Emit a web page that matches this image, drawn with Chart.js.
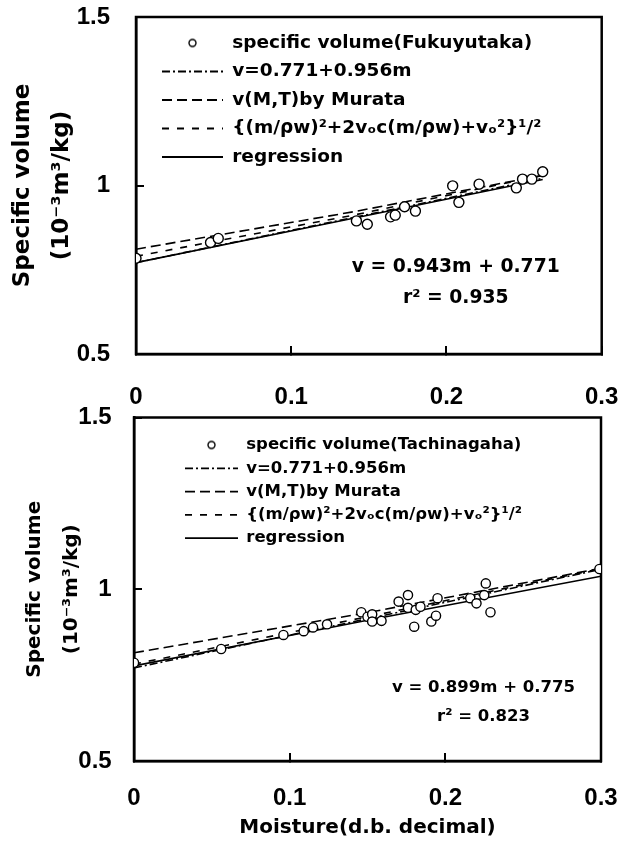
<!DOCTYPE html>
<html>
<head>
<meta charset="utf-8">
<script src="https://cdn.jsdelivr.net/npm/chart.js@4.4.0/dist/chart.umd.min.js"></script>
<style>
  html, body { margin: 0; padding: 0; background: #fff; }
  body { width: 629px; height: 846px; position: relative; overflow: hidden; }
  canvas { position: absolute; left: 0; }
  #topChart { top: 0; }
  #bottomChart { top: 400px; }
</style>
</head>
<body>
<canvas id="topChart" width="629" height="412"></canvas>
<canvas id="bottomChart" width="629" height="446"></canvas>
<script>
// Fukuyutaka: moisture (d.b. decimal) vs specific volume (10^-3 m3/kg)
var fukuMoisture = [0, 0.048, 0.053, 0.142, 0.149, 0.164, 0.167, 0.173, 0.180, 0.204, 0.208, 0.221, 0.245, 0.249, 0.255, 0.262];
var fukuVolume = [0.784, 0.831, 0.843, 0.895, 0.885, 0.907, 0.912, 0.937, 0.924, 0.999, 0.950, 1.004, 0.993, 1.019, 1.019, 1.041];

// Tachinagaha
var tachiMoisture = [0, 0.056, 0.096, 0.109, 0.115, 0.124, 0.146, 0.150, 0.153, 0.153, 0.159, 0.170, 0.176, 0.176, 0.180, 0.181, 0.184, 0.191, 0.194, 0.195, 0.216, 0.220, 0.225, 0.226, 0.229, 0.299];
var tachiVolume = [0.786, 0.826, 0.867, 0.878, 0.889, 0.898, 0.933, 0.920, 0.927, 0.906, 0.908, 0.964, 0.983, 0.946, 0.891, 0.940, 0.949, 0.906, 0.923, 0.974, 0.974, 0.959, 0.983, 1.017, 0.933, 1.059];

// model and fitted lines, read at both ends and in the middle
var fukuLineM = [0, 0.14, 0.262];
var fukuDashDot = [0.771, 0.905, 1.021];
var fukuMurata = [0.811, 0.922, 1.030];
var fukuSqrt = [0.790, 0.912, 1.030];
var fukuRegression = [0.771, 0.903, 1.018];

var tachiLineM = [0, 0.15, 0.3];
var tachiDashDot = [0.771, 0.914, 1.058];
var tachiMurata = [0.815, 0.932, 1.061];
var tachiSqrt = [0.782, 0.920, 1.060];
var tachiRegression = [0.777, 0.910, 1.038];

// axis ticks
var moistureTicks = [0, 0.1, 0.2, 0.3];
var moistureLabels = ['0', '0.1', '0.2', '0.3'];
var volumeTicks = [0.5, 1, 1.5];
var volumeLabels = ['0.5', '1', '1.5'];

var modelLabels = [
    'v=0.771+0.956m',
    'v(M,T)by Murata',
    '{(m/ρw)²+2vₒc(m/ρw)+vₒ²}¹/²',
    'regression'
];

var SANS = "'DejaVu Sans', sans-serif";
var TICKS = "'Liberation Sans', Arial, sans-serif";

Chart.defaults.color = '#000';

function toPoints(xs, ys) {
    return xs.map(function(x, i) { return {x: x, y: ys[i]}; });
}

// small open circle used as the legend marker
function circleMark(r) {
    var c = document.createElement('canvas');
    c.width = c.height = 2 * r + 4;
    var g = c.getContext('2d');
    g.lineWidth = 1.4;
    g.strokeStyle = '#000';
    g.fillStyle = '#fff';
    g.beginPath();
    g.arc(r + 2, r + 2, r, 0, Math.PI * 2);
    g.fill();
    g.stroke();
    return c;
}

// box round the plot area
var framePlugin = {
    id: 'frame',
    beforeDatasetsDraw: function(chart) {
        var a = chart.chartArea, ctx = chart.ctx;
        ctx.save();
        ctx.lineWidth = 2.5;
        ctx.strokeStyle = '#000';
        ctx.strokeRect(a.left, a.top, a.right - a.left, a.bottom - a.top);
        ctx.restore();
    }
};

// regression equation written inside the plot
var notesPlugin = {
    id: 'notes',
    afterDatasetsDraw: function(chart, args, opts) {
        var ctx = chart.ctx, xs = chart.scales.x, ys = chart.scales.y;
        ctx.save();
        ctx.font = 'bold ' + opts.size + 'px ' + SANS;
        ctx.fillStyle = '#000';
        ctx.textAlign = 'center';
        ctx.textBaseline = 'middle';
        opts.lines.forEach(function(t, i) {
            ctx.fillText(t, xs.getPixelForValue(opts.m), ys.getPixelForValue(opts.v[i]));
        });
        ctx.restore();
    }
};

// move the legend to its place inside the plot
var legendPlace = {
    id: 'legendPlace',
    afterLayout: function(chart, args, opts) {
        var lg = chart.legend, a = chart.chartArea;
        lg.left = a.left + opts.dx;
        lg.top = a.top + opts.dy;
        lg.right = a.right;
        lg.bottom = a.bottom;
    }
};

function makeChart(id, s) {
    var lineStyle = {
        showLine: true, pointRadius: 0, pointHoverRadius: 0, borderColor: '#000',
        borderWidth: 1.6, fill: false, tension: 0, pointStyle: 'line'
    };
    var datasets = [
        {label: s.pointsLabel, data: toPoints(s.moisture, s.volume), showLine: false,
         pointRadius: s.radius, pointBorderWidth: 1.4, pointBackgroundColor: '#fff',
         pointBorderColor: '#000', backgroundColor: '#fff', borderColor: '#000'},
        Object.assign({label: modelLabels[0], data: toPoints(s.lineM, s.dashDot), borderDash: [8, 3, 2, 3]}, lineStyle),
        Object.assign({label: modelLabels[1], data: toPoints(s.lineM, s.murata), borderDash: [10, 5]}, lineStyle),
        Object.assign({label: modelLabels[2], data: toPoints(s.lineM, s.sqrt), borderDash: [7, 8]}, lineStyle),
        Object.assign({label: modelLabels[3], data: toPoints(s.lineM, s.regression)}, lineStyle)
    ];
    var mark = circleMark(3.5);

    return new Chart(document.getElementById(id), {
        type: 'scatter',
        data: {datasets: datasets},
        plugins: [framePlugin, notesPlugin, legendPlace],
        options: {
            responsive: false,
            animation: false,
            devicePixelRatio: 1,
            layout: {padding: {top: s.padTop, left: 0, right: s.padRight, bottom: 0}},
            plugins: {
                tooltip: {enabled: false},
                legend: {
                    position: 'chartArea',
                    align: 'start',
                    labels: {
                        usePointStyle: true,
                        pointStyleWidth: s.legendBox,
                        padding: s.legendGap,
                        font: {family: SANS, size: s.legendFont, weight: 'bold'},
                        color: '#000',
                        generateLabels: function(chart) {
                            return chart.data.datasets.map(function(ds, i) {
                                return {
                                    text: ds.label,
                                    fillStyle: '#fff',
                                    strokeStyle: '#000',
                                    lineWidth: 1.8,
                                    lineDash: ds.borderDash || [],
                                    pointStyle: i === 0 ? mark : 'line',
                                    hidden: false,
                                    datasetIndex: i
                                };
                            });
                        }
                    }
                },
                legendPlace: {dx: s.legendDx, dy: s.legendDy},
                notes: {size: s.noteFont, m: s.noteM, v: s.noteV, lines: s.notes}
            },
            scales: {
                x: {
                    type: 'linear',
                    min: 0, max: 0.3,
                    afterBuildTicks: function(scale) {
                        scale.ticks = moistureTicks.map(function(v) { return {value: v}; });
                    },
                    afterFit: function(scale) {
                        scale.height = s.xAxisHeight;
                        scale.paddingLeft = 0;
                        scale.paddingRight = 0;
                    },
                    ticks: {
                        padding: s.xTickPad,
                        maxRotation: 0,
                        font: {family: TICKS, size: s.tickFont, weight: 'bold'},
                        color: '#000',
                        callback: function(v, i) { return moistureLabels[i]; }
                    },
                    grid: {drawOnChartArea: false, tickLength: -8, color: '#000', lineWidth: 2},
                    border: {display: true, color: '#000', width: 2.5},
                    title: s.xTitle ? {
                        display: true,
                        text: s.xTitle,
                        font: {family: SANS, size: 20, weight: 'bold'},
                        padding: {top: 0, bottom: 6},
                        color: '#000'
                    } : {display: false}
                },
                y: {
                    type: 'linear',
                    min: 0.5, max: 1.5,
                    afterBuildTicks: function(scale) {
                        scale.ticks = volumeTicks.map(function(v) { return {value: v}; });
                    },
                    afterFit: function(scale) {
                        scale.width = s.yAxisWidth;
                        scale.paddingTop = 0;
                        scale.paddingBottom = 0;
                    },
                    ticks: {
                        padding: s.yTickPad,
                        font: {family: TICKS, size: s.tickFont, weight: 'bold'},
                        color: '#000',
                        callback: function(v, i) { return volumeLabels[i]; }
                    },
                    grid: {drawOnChartArea: false, tickLength: -8, color: '#000', lineWidth: 2},
                    border: {display: true, color: '#000', width: 2.5},
                    title: {
                        display: true,
                        text: ['Specific volume', '(10⁻³m³/kg)'],
                        font: {family: SANS, size: s.yTitleFont, weight: 'bold', lineHeight: s.yTitleLine},
                        padding: {top: s.yTitlePad, bottom: 0},
                        color: '#000'
                    }
                }
            }
        }
    });
}

makeChart('topChart', {
    pointsLabel: 'specific volume(Fukuyutaka)',
    moisture: fukuMoisture, volume: fukuVolume, lineM: fukuLineM,
    dashDot: fukuDashDot, murata: fukuMurata, sqrt: fukuSqrt, regression: fukuRegression,
    radius: 5, padTop: 17, padRight: 27.3, xAxisHeight: 58, yAxisWidth: 136,
    xTickPad: 36.6, yTickPad: 34, tickFont: 24,
    yTitleFont: 23, yTitleLine: 1.7, yTitlePad: 3.5,
    legendBox: 61, legendGap: 10, legendFont: 18.5, legendDx: 16, legendDy: 6.75,
    noteFont: 18.75, noteM: 0.206, noteV: [0.759, 0.665],
    notes: ['v = 0.943m + 0.771', 'r² = 0.935'],
    xTitle: null
});

makeChart('bottomChart', {
    pointsLabel: 'specific volume(Tachinagaha)',
    moisture: tachiMoisture, volume: tachiVolume, lineM: tachiLineM,
    dashDot: tachiDashDot, murata: tachiMurata, sqrt: tachiSqrt, regression: tachiRegression,
    radius: 4.6, padTop: 17.5, padRight: 28, xAxisHeight: 85, yAxisWidth: 134,
    xTickPad: 30.6, yTickPad: 30.3, tickFont: 24,
    yTitleFont: 20, yTitleLine: 1.85, yTitlePad: 16.5,
    legendBox: 53, legendGap: 6.8, legendFont: 16.5, legendDx: 44.2, legendDy: 12.45,
    noteFont: 16.5, noteM: 0.2245, noteV: [0.712, 0.629],
    notes: ['v = 0.899m + 0.775', 'r² = 0.823'],
    xTitle: 'Moisture(d.b. decimal)'
});
</script>
</body>
</html>
